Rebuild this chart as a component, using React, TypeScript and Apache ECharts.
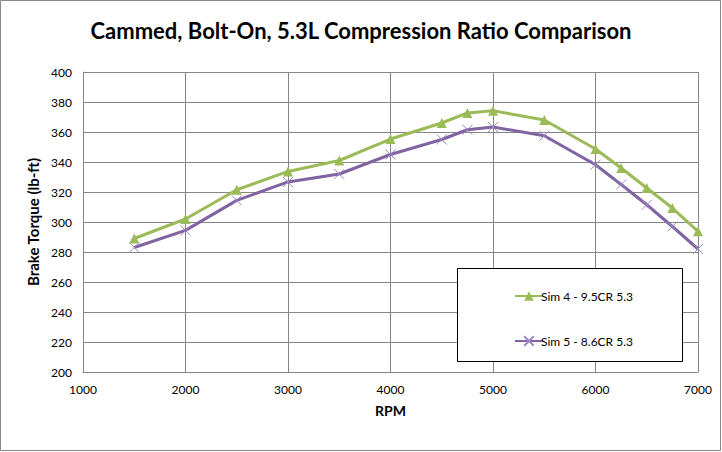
import React, { useEffect, useRef } from "react";
import * as echarts from "echarts";

const rpm = [1500, 2000, 2500, 3000, 3500, 4000, 4500, 4750, 5000, 5500, 6000, 6250, 6500, 6750, 7000];
const sim4 = [289, 302, 321.5, 333.7, 341, 355.3, 366, 372.7, 374.2, 368, 348.7, 336, 322.7, 309.3, 293.8];
const sim5 = [283, 294.4, 314.4, 326.7, 332, 345, 355, 361.5, 363.3, 357.5, 338.2, 325, 311.5, 297, 282];
const seriesNames = ["Sim 4 - 9.5CR 5.3", "Sim 5 - 8.6CR 5.3"];

const FONT = "Lato, 'Open Sans', sans-serif";

export default function App() {
  const ref = useRef<HTMLDivElement>(null);
  useEffect(() => {
    document.body.style.margin = "0";
    if (!ref.current) return;
    const chart = echarts.init(ref.current, undefined, { renderer: "svg" });
    const crossPath = "path://M0,0L10,10M10,0L0,10";
    chart.setOption({
      animation: false,
      backgroundColor: "#ffffff",
      textStyle: { fontFamily: FONT },
      title: {
        text: "Cammed, Bolt-On, 5.3L Compression Ratio Comparison",
        left: "center",
        top: 14,
        textStyle: { fontFamily: FONT, fontSize: 22, fontWeight: "bold", color: "#000" },
      },
      graphic: [
        {
          type: "rect",
          shape: { x: 0.5, y: 0.5, width: 720, height: 450 },
          style: { fill: "none", stroke: "#888888", lineWidth: 1 },
          silent: true,
        },
        {
          type: "rect",
          shape: { x: 457.5, y: 268.5, width: 225, height: 93 },
          style: { fill: "#ffffff", stroke: "#000000", lineWidth: 1 },
          z: 10,
        },
      ],
      legend: {
        data: seriesNames,
        orient: "vertical",
        left: 509,
        top: 285,
        itemGap: 33,
        itemWidth: 28,
        itemHeight: 12,
        z: 20,
        textStyle: { fontFamily: FONT, fontSize: 12, color: "#000", padding: [0, 0, 0, -7] },
      },
      grid: { left: 83, right: 24, top: 72, bottom: 80 },
      xAxis: {
        type: "value",
        min: 1000,
        max: 7000,
        interval: 1000,
        name: "RPM",
        nameLocation: "middle",
        nameGap: 31,
        nameTextStyle: { fontFamily: FONT, fontSize: 14, fontWeight: "bold", color: "#000" },
        axisLine: { show: true, lineStyle: { color: "#868686" } },
        axisTick: { show: false },
        axisLabel: { fontFamily: FONT, fontSize: 12, color: "#000", margin: 11, formatter: (v: number) => String(v) },
        splitLine: { show: true, lineStyle: { color: "#868686", width: 1 } },
      },
      yAxis: {
        type: "value",
        min: 200,
        max: 400,
        interval: 20,
        name: "Brake Torque (lb-ft)",
        nameLocation: "middle",
        nameGap: 40,
        nameTextStyle: { fontFamily: FONT, fontSize: 15, fontWeight: "bold", color: "#000" },
        axisLine: { show: true, lineStyle: { color: "#868686" } },
        axisTick: { show: false },
        axisLabel: { fontFamily: FONT, fontSize: 12, color: "#000", margin: 11 },
        splitLine: { show: true, lineStyle: { color: "#868686", width: 1 } },
      },
      series: [
        {
          name: seriesNames[0],
          type: "line",
          data: rpm.map((x, i) => [x, sim4[i]]),
          symbol: "triangle",
          symbolSize: 10,
          lineStyle: { color: "#9BBB59", width: 3 },
          itemStyle: { color: "#9BBB59" },
          z: 3,
        },
        {
          name: seriesNames[1],
          type: "line",
          data: rpm.map((x, i) => [x, sim5[i]]),
          symbol: crossPath,
          symbolSize: 10,
          lineStyle: { color: "#8064A2", width: 3 },
          itemStyle: { color: "#8064A2", borderColor: "#9C89C4", borderWidth: 1 },
          z: 2,
        },
      ],
    });
    return () => chart.dispose();
  }, []);
  return <div ref={ref} style={{ width: 722, height: 452 }} />;
}
